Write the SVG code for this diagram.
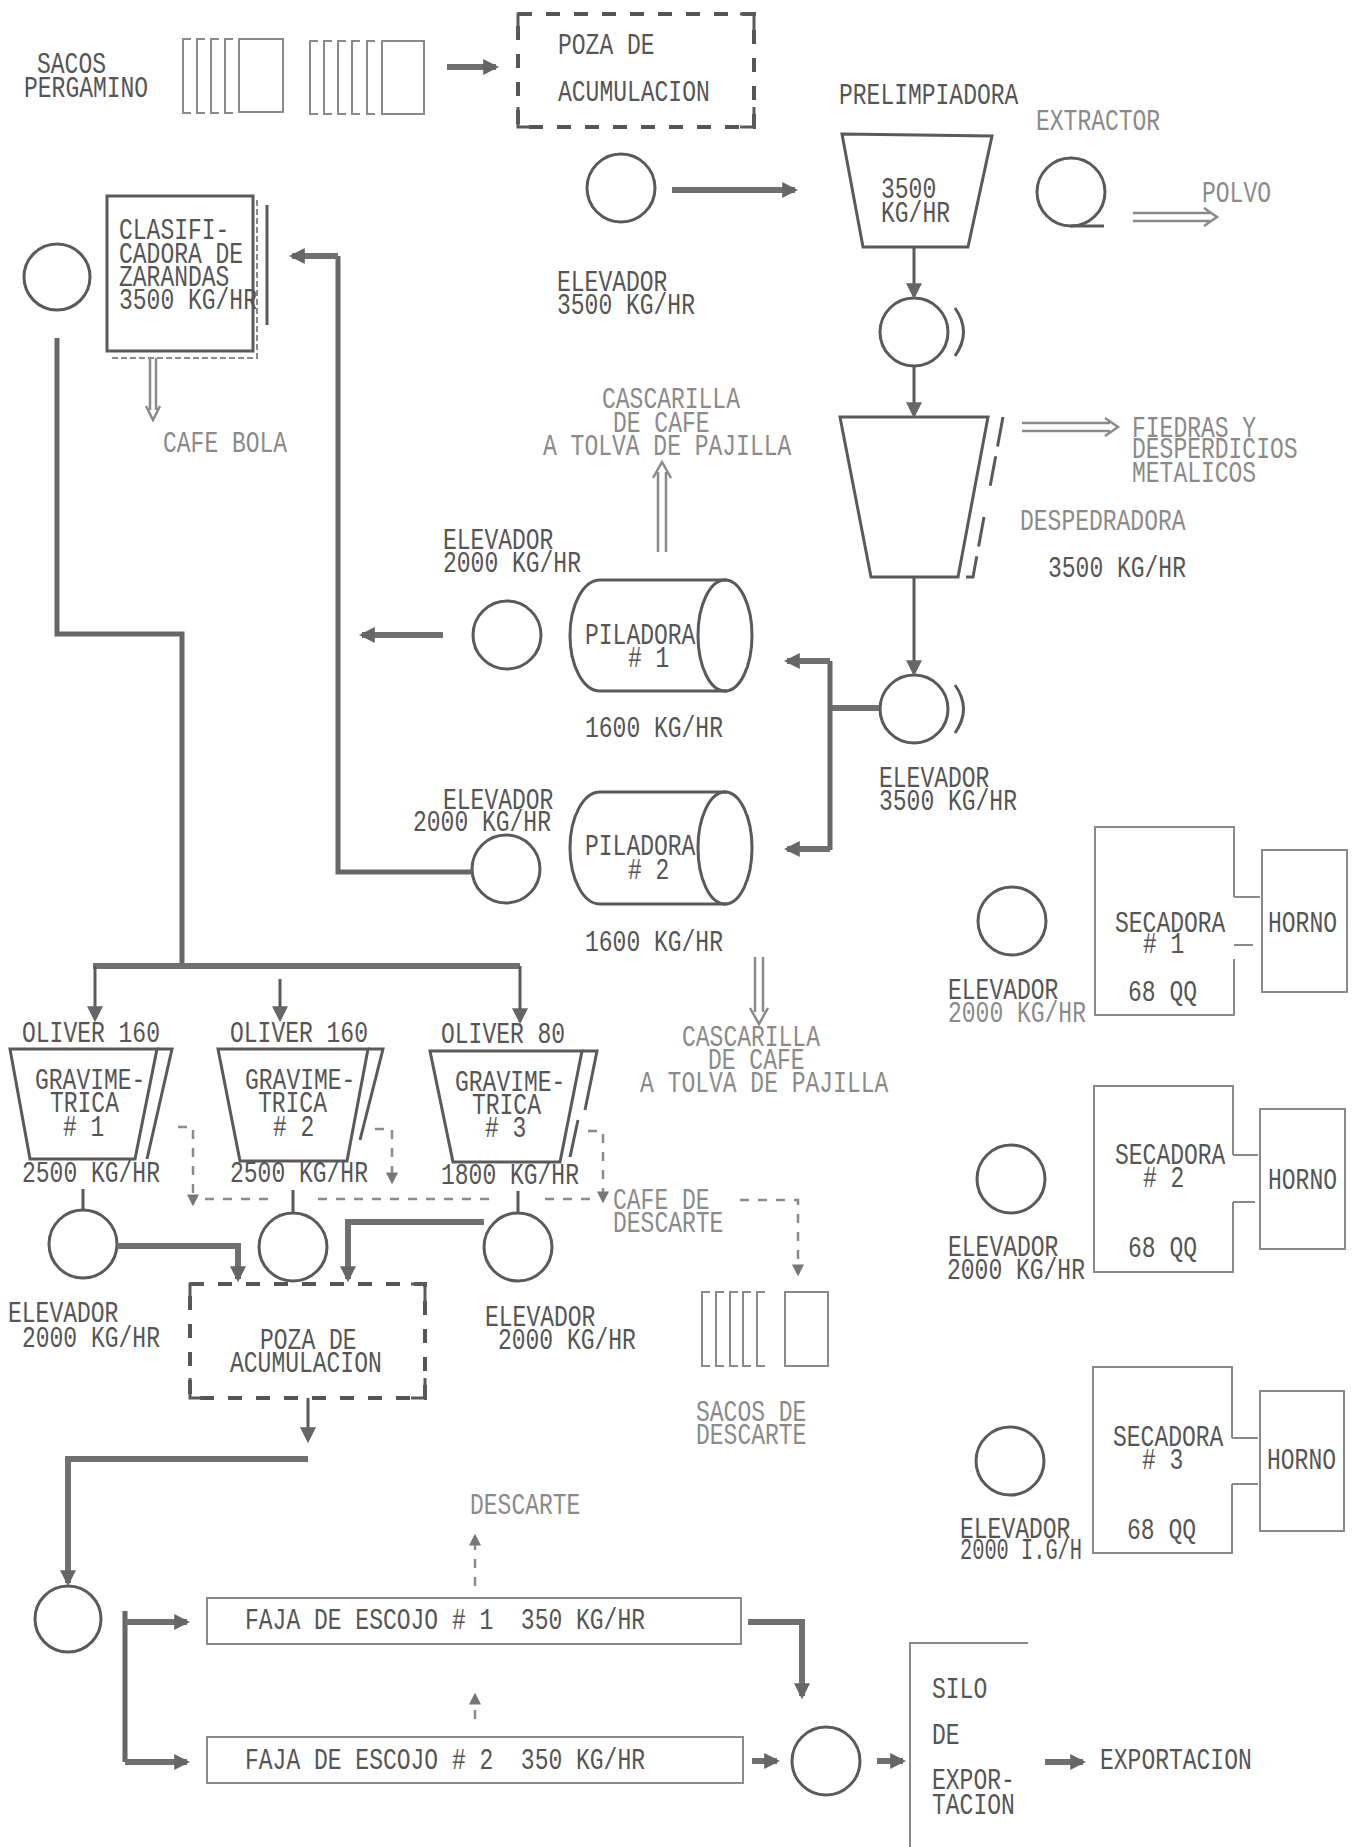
<svg xmlns="http://www.w3.org/2000/svg" width="1355" height="1847" viewBox="0 0 1355 1847">
<style>
text{font-family:"Liberation Mono","DejaVu Sans Mono",monospace;font-size:23px;fill:#555}
.l{fill:#8a8a8a}
.ln{fill:none;stroke:#5a5a5a;stroke-width:3}
.lt{fill:none;stroke:#8a8a8a;stroke-width:2}
.th{fill:none;stroke:#707070;stroke-width:6}
.fl{fill:none;stroke:#666;stroke-width:5}
.hol{fill:none;stroke:#8a8a8a;stroke-width:2.5}
.ds{fill:none;stroke:#8a8a8a;stroke-width:2.5;stroke-dasharray:9 9}
.pz{fill:none;stroke:#555;stroke-width:4;stroke-dasharray:14 14}
</style>
<defs>
<marker id="ah" viewBox="0 0 10 10" refX="8" refY="5" markerWidth="16" markerHeight="16" markerUnits="userSpaceOnUse" orient="auto">
<path d="M0,0 L10,5 L0,10 z" fill="#666"/>
</marker>
<marker id="as" viewBox="0 0 10 10" refX="8" refY="5" markerWidth="12" markerHeight="12" markerUnits="userSpaceOnUse" orient="auto">
<path d="M0,0 L10,5 L0,10 z" fill="#777"/>
</marker>
</defs>
<rect width="1355" height="1847" fill="#fff"/>

<g id="sacos-pergamino">
<path class="lt" d="M191,39H183V113H191M205,39H197V113H205M219,39H211V113H219M233,39H225V113H233"/>
<rect class="lt" x="239" y="39" width="44" height="73"/>
<path class="lt" d="M318,41H310V114H318M332,41H324V114H332M346,41H338V114H346M360,41H352V114H360M375,41H367V114H375"/>
<rect class="lt" x="382" y="41" width="42" height="73"/>
<text transform="translate(37,73) scale(1,1.25)">SACOS<tspan x="-13" dy="19.2">PERGAMINO</tspan></text>
</g>

<g id="poza-1">
<rect class="pz" x="518" y="14" width="236" height="113"/>
<path class="ln" d="M518,34V14H532M740,14H754V34M518,107V127H532M740,127H754V107" stroke-width="4"/>
<text transform="translate(558,54) scale(1,1.25)">POZA DE<tspan x="0" dy="37.6">ACUMULACION</tspan></text>
</g>

<g id="elevador-1">
<circle class="ln" cx="621" cy="188" r="34"/>
<text transform="translate(557,291) scale(1,1.25)">ELEVADOR<tspan x="0" dy="18.4">3500 KG/HR</tspan></text>
</g>

<g id="prelimpiadora">
<polygon class="ln" points="842,134 992,136 968,247 863,247"/>
<text transform="translate(839,104) scale(1,1.25)">PRELIMPIADORA</text>
<text transform="translate(881,198) scale(1,1.25)">3500<tspan x="0" dy="19.2">KG/HR</tspan></text>
</g>

<g id="extractor">
<circle class="ln" cx="1071" cy="192" r="34" stroke="#777"/>
<path class="ln" d="M1071,226H1104"/>
<text class="l" transform="translate(1036,130) scale(1,1.25)">EXTRACTOR</text>
<text class="l" transform="translate(1202,202) scale(1,1.25)">POLVO</text>
</g>

<g id="elevador-2">
<circle class="ln" cx="914" cy="332" r="34"/>
<path class="ln" d="M955,308Q972,332 955,356"/>
</g>

<g id="despedradora">
<polygon class="ln" points="840,417 988,417 958,577 871,577"/>
<path class="ln" d="M1003,417L990,487M984,517L973,577H966" stroke-dasharray="30 10"/>
<text class="l" transform="translate(1132,437) scale(1,1.25)">FIEDRAS Y<tspan x="0" dy="16.8">DESPERDICIOS</tspan><tspan x="0" dy="19.2">METALICOS</tspan></text>
<text class="l" transform="translate(1020,530) scale(1,1.25)">DESPEDRADORA</text>
<text transform="translate(1048,577) scale(1,1.25)">3500 KG/HR</text>
</g>

<g id="elevador-3">
<circle class="ln" cx="914" cy="709" r="34"/>
<path class="ln" d="M955,685Q972,709 955,733"/>
<text transform="translate(879,787) scale(1,1.25)">ELEVADOR<tspan x="0" dy="18.4">3500 KG/HR</tspan></text>
</g>

<g id="clasificadora">
<rect class="ln" x="107" y="196" width="146" height="155"/>
<path class="lt" d="M257,200V358H110" stroke-dasharray="6 3"/>
<path class="ln" d="M267,205V325"/>
<text transform="translate(119,239) scale(1,1.25)">CLASIFI-<tspan x="0" dy="19.2">CADORA DE</tspan><tspan x="0" dy="18.4">ZARANDAS</tspan><tspan x="0" dy="18.4">3500 KG/HR</tspan></text>
<text class="l" transform="translate(163,452) scale(1,1.25)">CAFE BOLA</text>
</g>

<g id="elevador-4">
<circle class="ln" cx="57" cy="277" r="33"/>
</g>

<g id="cascarilla-1">
<text class="l" transform="translate(602,408) scale(1,1.25)">CASCARILLA<tspan x="11" dy="19.2">DE CAFE</tspan><tspan x="-59" dy="18.4">A TOLVA DE PAJILLA</tspan></text>
</g>

<g id="elevador-5">
<circle class="ln" cx="507" cy="635" r="34"/>
<text transform="translate(443,549) scale(1,1.25)">ELEVADOR<tspan x="0" dy="18.4">2000 KG/HR</tspan></text>
</g>

<g id="piladora-1">
<path class="ln" d="M600,580H727M600,691H727M600,580A30,55.5 0 0 0 600,691"/>
<ellipse class="ln" cx="725" cy="635.5" rx="27" ry="55.5"/>
<text transform="translate(585,644) scale(1,1.25)">PILADORA<tspan x="43" dy="18.4"># 1</tspan></text>
<text transform="translate(585,737) scale(1,1.25)">1600 KG/HR</text>
</g>

<g id="elevador-6">
<circle class="ln" cx="506" cy="869" r="34"/>
<text transform="translate(443,809) scale(1,1.25)">ELEVADOR<tspan x="-30" dy="17.6">2000 KG/HR</tspan></text>
</g>

<g id="piladora-2">
<path class="ln" d="M600,792H727M600,904H727M600,792A30,56 0 0 0 600,904"/>
<ellipse class="ln" cx="725" cy="848" rx="27" ry="56"/>
<text transform="translate(585,855) scale(1,1.25)">PILADORA<tspan x="43" dy="19.2"># 2</tspan></text>
<text transform="translate(585,951) scale(1,1.25)">1600 KG/HR</text>
</g>

<g id="cascarilla-2">
<text class="l" transform="translate(682,1046) scale(1,1.25)">CASCARILLA<tspan x="26" dy="18.4">DE CAFE</tspan><tspan x="-42" dy="18.4">A TOLVA DE PAJILLA</tspan></text>
</g>

<g id="gravimetrica-1">
<polygon class="ln" points="10,1049 157,1049 135,1159 30,1159" stroke-width="4"/>
<path class="ln" d="M157,1049H172L147,1159" stroke-width="4"/>
<text transform="translate(22,1042) scale(1,1.25)">OLIVER 160</text>
<text transform="translate(35,1089) scale(1,1.25)">GRAVIME-<tspan x="15" dy="18.4">TRICA</tspan><tspan x="28" dy="19.2"># 1</tspan></text>
<text transform="translate(22,1182) scale(1,1.25)">2500 KG/HR</text>
</g>

<g id="gravimetrica-2">
<polygon class="ln" points="218,1049 368,1049 347,1161 240,1161" stroke-width="4"/>
<path class="ln" d="M368,1049H383L360,1140" stroke-width="4"/>
<text transform="translate(230,1042) scale(1,1.25)">OLIVER 160</text>
<text transform="translate(245,1089) scale(1,1.25)">GRAVIME-<tspan x="13" dy="18.4">TRICA</tspan><tspan x="28" dy="19.2"># 2</tspan></text>
<text transform="translate(230,1182) scale(1,1.25)">2500 KG/HR</text>
</g>

<g id="gravimetrica-3">
<polygon class="ln" points="430,1051 582,1051 560,1162 453,1162" stroke-width="4"/>
<path class="ln" d="M582,1051H597L585,1110M578,1120L570,1157" stroke-width="4"/>
<text transform="translate(441,1043) scale(1,1.25)">OLIVER 80</text>
<text transform="translate(455,1091) scale(1,1.25)">GRAVIME-<tspan x="17" dy="18.4">TRICA</tspan><tspan x="30" dy="18.4"># 3</tspan></text>
<text transform="translate(441,1184) scale(1,1.25)">1800 KG/HR</text>
</g>

<g id="elevador-g1">
<circle class="ln" cx="83" cy="1244" r="34"/>
<text transform="translate(8,1322) scale(1,1.25)">ELEVADOR<tspan x="14" dy="20">2000 KG/HR</tspan></text>
</g>
<g id="elevador-g2">
<circle class="ln" cx="293" cy="1247" r="34"/>
</g>
<g id="elevador-g3">
<circle class="ln" cx="518" cy="1247" r="34"/>
<text transform="translate(485,1326) scale(1,1.25)">ELEVADOR<tspan x="13" dy="18.4">2000 KG/HR</tspan></text>
</g>

<g id="cafe-descarte">
<text class="l" transform="translate(613,1209) scale(1,1.25)">CAFE DE<tspan x="0" dy="18.4">DESCARTE</tspan></text>
</g>

<g id="sacos-descarte">
<path class="lt" d="M710,1292H702V1366H710M724,1292H716V1366H724M738,1292H730V1366H738M751,1292H743V1366H751M765,1292H757V1366H765"/>
<rect class="lt" x="785" y="1292" width="43" height="74"/>
<text class="l" transform="translate(696,1421) scale(1,1.25)">SACOS DE<tspan x="0" dy="18.4">DESCARTE</tspan></text>
</g>

<g id="poza-2">
<rect class="pz" x="190" y="1284" width="235" height="114"/>
<path class="ln" d="M190,1304V1284H204M411,1284H425V1304M190,1378V1398H204M411,1398H425V1378" stroke-width="4"/>
<text transform="translate(260,1349) scale(1,1.25)">POZA DE<tspan x="-30" dy="18.4">ACUMULACION</tspan></text>
</g>

<g id="elevador-7">
<circle class="ln" cx="68" cy="1619" r="33"/>
</g>

<g id="faja-1">
<rect class="lt" x="207" y="1598" width="534" height="46"/>
<text transform="translate(245,1629) scale(1,1.25)">FAJA DE ESCOJO # 1&#160;&#160;350 KG/HR</text>
</g>
<g id="faja-2">
<rect class="lt" x="207" y="1737" width="536" height="46"/>
<text transform="translate(245,1769) scale(1,1.25)">FAJA DE ESCOJO # 2&#160;&#160;350 KG/HR</text>
</g>
<g id="descarte">
<text class="l" transform="translate(470,1514) scale(1,1.25)">DESCARTE</text>
</g>

<g id="elevador-8">
<circle class="ln" cx="826" cy="1761" r="34"/>
</g>

<g id="silo">
<path class="lt" d="M1028,1643H910V1847"/>
<text transform="translate(932,1698) scale(1,1.25)">SILO<tspan x="0" dy="36.8">DE</tspan><tspan x="0" dy="36">EXPOR-</tspan><tspan x="0" dy="20">TACION</tspan></text>
</g>
<g id="exportacion">
<text transform="translate(1100,1769) scale(1,1.25)">EXPORTACION</text>
</g>

<g id="secadora-1">
<circle class="ln" cx="1012" cy="921" r="34"/>
<path class="lt" d="M1234,897V827H1095V1015H1234V959M1234,897H1260M1234,945H1253"/>
<rect class="lt" x="1262" y="850" width="85" height="142"/>
<text transform="translate(1115,932) scale(1,1.25)">SECADORA<tspan x="28" dy="16.8"># 1</tspan></text>
<text transform="translate(1128,1001) scale(1,1.25)">68 QQ</text>
<text transform="translate(1268,932) scale(1,1.25)">HORNO</text>
<text transform="translate(948,999) scale(1,1.25)">ELEVADOR<tspan class="l" x="0" dy="18.4">2000 KG/HR</tspan></text>
</g>

<g id="secadora-2">
<circle class="ln" cx="1011" cy="1179" r="34"/>
<path class="lt" d="M1233,1155V1086H1094V1272H1233V1202M1233,1155H1258M1233,1202H1255"/>
<rect class="lt" x="1260" y="1109" width="85" height="140"/>
<text transform="translate(1115,1164) scale(1,1.25)">SECADORA<tspan x="28" dy="18.4"># 2</tspan></text>
<text transform="translate(1128,1257) scale(1,1.25)">68 QQ</text>
<text transform="translate(1268,1189) scale(1,1.25)">HORNO</text>
<text transform="translate(948,1256) scale(1,1.25)">ELEVADOR<tspan x="-1" dy="18.4">2000 KG/HR</tspan></text>
</g>

<g id="secadora-3">
<circle class="ln" cx="1010" cy="1461" r="34"/>
<path class="lt" d="M1232,1438V1367H1093V1553H1232V1484M1232,1438H1258M1232,1484H1258"/>
<rect class="lt" x="1260" y="1391" width="84" height="140"/>
<text transform="translate(1113,1446) scale(1,1.25)">SECADORA<tspan x="29" dy="18.4"># 3</tspan></text>
<text transform="translate(1127,1539) scale(1,1.25)">68 QQ</text>
<text transform="translate(1267,1469) scale(1,1.25)">HORNO</text>
<text transform="translate(960,1538) scale(1,1.25)">ELEVADOR<tspan x="0" dy="16.8" textLength="122" lengthAdjust="spacingAndGlyphs">2000 I.G/H</tspan></text>
</g>

<g id="connectors">
<path class="th" d="M447,67H496" marker-end="url(#ah)"/>
<path class="th" d="M672,190H795" marker-end="url(#ah)"/>
<path class="ln" d="M914,247V296" marker-end="url(#ah)"/>
<path class="ln" d="M914,367V415" marker-end="url(#ah)"/>
<path class="ln" d="M914,577V673" marker-end="url(#ah)"/>
<path class="hol" d="M1133,213H1210M1133,221H1210M1204,208L1217,217L1204,226"/>
<path class="hol" d="M1022,423H1110M1022,431H1110M1105,418L1118,427L1105,436"/>
<path class="th" d="M879,708H830" stroke-width="5"/>
<path class="fl" d="M830,661V850"/>
<path class="th" d="M830,661H787" stroke-width="5" marker-end="url(#ah)"/>
<path class="th" d="M830,849H787" stroke-width="5" marker-end="url(#ah)"/>
<path class="th" d="M443,635H362" marker-end="url(#ah)"/>
<path class="fl" d="M472,872H338V256"/>
<path class="th" d="M338,256H292" marker-end="url(#ah)"/>
<path class="hol" d="M658,552V472M666,552V472M653,478L662,462L671,478"/>
<path class="hol" d="M755,957V1012M763,957V1012M750,1008L759,1024L768,1008"/>
<path class="hol" d="M150,358V410M156,358V410M146,406L153,420L160,406"/>
<path class="fl" d="M57,338V634H182V966"/>
<path class="th" d="M93,966H520"/>
<path class="ln" d="M95,966V1019" marker-end="url(#ah)"/>
<path class="ln" d="M280,979V1019" marker-end="url(#ah)"/>
<path class="ln" d="M520,966V1021" marker-end="url(#ah)"/>
<path class="ln" d="M83,1189V1211M293,1190V1213M518,1191V1212" stroke-width="5"/>
<path class="th" d="M117,1246H238V1279" stroke-width="5" marker-end="url(#ah)"/>
<path class="th" d="M484,1222H348V1279" stroke-width="5" marker-end="url(#ah)"/>
<path class="ds" d="M178,1127H193V1204" marker-end="url(#as)"/>
<path class="ds" d="M375,1129H392V1182" marker-end="url(#as)"/>
<path class="ds" d="M588,1131H603V1201" marker-end="url(#as)"/>
<path class="ds" d="M205,1199H275M318,1199H495M545,1199H597"/>
<path class="ds" d="M740,1200H798V1274" marker-end="url(#as)"/>
<path class="ln" d="M308,1398V1440" stroke-width="4" marker-end="url(#ah)"/>
<path class="th" d="M308,1459H68V1583" stroke-width="5" marker-end="url(#ah)"/>
<path class="fl" d="M125,1611V1762"/>
<path class="th" d="M125,1622H187" stroke-width="5" marker-end="url(#ah)"/>
<path class="th" d="M125,1762H187" stroke-width="5" marker-end="url(#ah)"/>
<path class="th" d="M748,1622H802V1696" stroke-width="5" marker-end="url(#ah)"/>
<path class="th" d="M752,1761H777" stroke-width="5" marker-end="url(#ah)"/>
<path class="th" d="M877,1761H903" stroke-width="5" marker-end="url(#ah)"/>
<path class="th" d="M1045,1762H1083" stroke-width="5" marker-end="url(#ah)"/>
<path class="ds" d="M475,1586V1536" marker-end="url(#as)"/>
<path class="ds" d="M475,1719V1695" marker-end="url(#as)"/>
</g>
</svg>
